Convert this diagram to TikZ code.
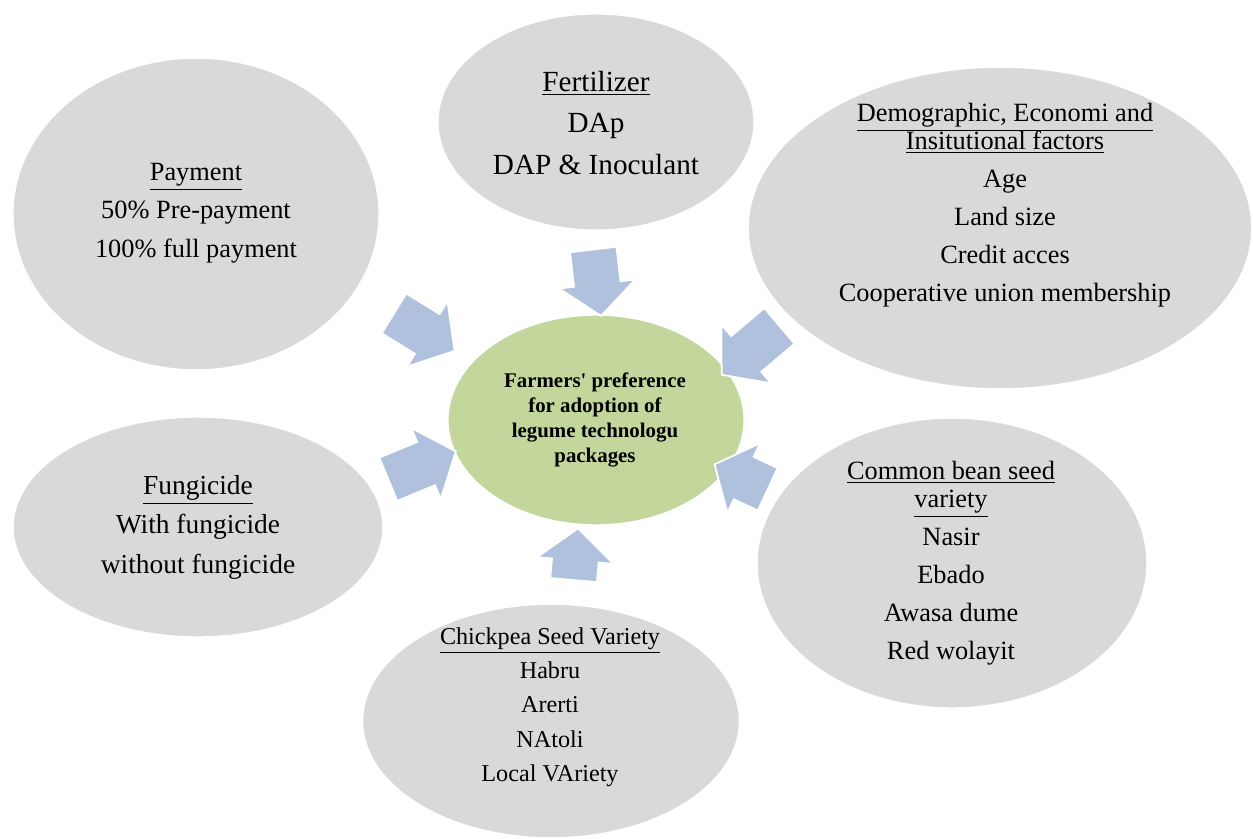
\documentclass[tikz,border=0pt]{standalone}
\usepackage{fontspec}
\setmainfont{Liberation Serif}
\usetikzlibrary{shapes.geometric,shapes.arrows}
\definecolor{bubblegray}{RGB}{217,217,217}
\definecolor{hubgreen}{RGB}{195,214,155}
\definecolor{arrowblue}{RGB}{176,193,221}
\tikzset{
  bubble/.style  = {ellipse, fill=bubblegray, draw=white, line width=0.6pt, inner sep=0pt},
  hub/.style     = {ellipse, fill=hubgreen, draw=white, line width=0.6pt, inner sep=0pt},
  bubtext/.style = {align=center, inner sep=0pt},
  barrow/.style  = {single arrow, fill=arrowblue, draw=white, line width=0.8pt,
                    inner xsep=0pt, inner ysep=0.36cm, single arrow head extend=0.24cm,
                    single arrow tip angle=100},
}
\newcommand{\hdr}[1]{\underline{#1}}

\begin{document}
\begin{tikzpicture}[x=0.016cm, y=-0.016cm]
  \useasboundingbox (0,0) rectangle (1253,838);
  \fill[white] (0,0) rectangle (1253,838);

  \node[bubble, minimum width=5.86cm, minimum height=4.99cm] (pay)   at (196,214) {};
  \node[bubble, minimum width=5.06cm, minimum height=3.46cm] (fert)  at (596,122) {};
  \node[bubble, minimum width=8.06cm, minimum height=5.15cm] (demo)  at (1000,228) {};
  \node[bubble, minimum width=5.92cm, minimum height=3.52cm] (fung)  at (198,527) {};
  \node[bubble, minimum width=6.24cm, minimum height=4.64cm] (bean)  at (952,563) {};
  \node[bubble, minimum width=6.03cm, minimum height=3.74cm] (chick) at (551,721) {};
  \node[hub,    minimum width=4.74cm, minimum height=3.36cm] (pref)  at (596,420) {};

  \node[bubtext, font=\fontsize{12}{17.5}\selectfont] (paytxt) at (196,213)
    {\hdr{Payment}\\50\% Pre-payment\\100\% full payment};
  \node[bubtext, font=\fontsize{13.3}{19}\selectfont] (ferttxt) at (596,123)
    {\hdr{Fertilizer}\\DAp\\DAP \& Inoculant};
  \node[bubtext, font=\fontsize{12}{17.3}\selectfont] (demotxt) at (1005,205)
    {\hdr{Demographic, Economi and}\\[-4.5pt]\hdr{Insitutional factors}\\Age\\Land size\\Credit acces\\Cooperative union membership};
  \node[bubtext, font=\fontsize{12.5}{18}\selectfont] (fungtxt) at (198,527)
    {\hdr{Fungicide}\\With fungicide\\without fungicide};
  \node[bubtext, font=\fontsize{12}{17.3}\selectfont] (beantxt) at (951,563)
    {\hdr{Common bean seed}\\[-4.5pt]\hdr{variety}\\Nasir\\Ebado\\Awasa dume\\Red wolayit};
  \node[bubtext, font=\fontsize{11}{15.6}\selectfont] (chicktxt) at (550,707)
    {\hdr{Chickpea Seed Variety}\\Habru\\Arerti\\NAtoli\\Local VAriety};
  \node[bubtext, font=\fontsize{9.5}{11.4}\selectfont\bfseries] (preftxt) at (595,420)
    {Farmers\textquotesingle\ preference\\for adoption of\\legume technologu\\packages};

  \node[barrow, minimum height=1.07cm, rotate=-83.2] (afert)  at (596,273) {};
  \node[barrow, minimum height=1.14cm, rotate=-31.8] (apay)   at (416,327) {};
  \node[barrow, minimum height=1.21cm, rotate=220.2] (ademo)  at (758,344) {};
  \node[barrow, minimum height=1.17cm, rotate=22.5]  (afung)  at (413,469) {};
  \node[barrow, minimum height=0.94cm, rotate=154.9] (abean)  at (750,481) {};
  \node[barrow, minimum height=0.83cm, rotate=85]    (achick) at (575,564) {};
\end{tikzpicture}
\end{document}
